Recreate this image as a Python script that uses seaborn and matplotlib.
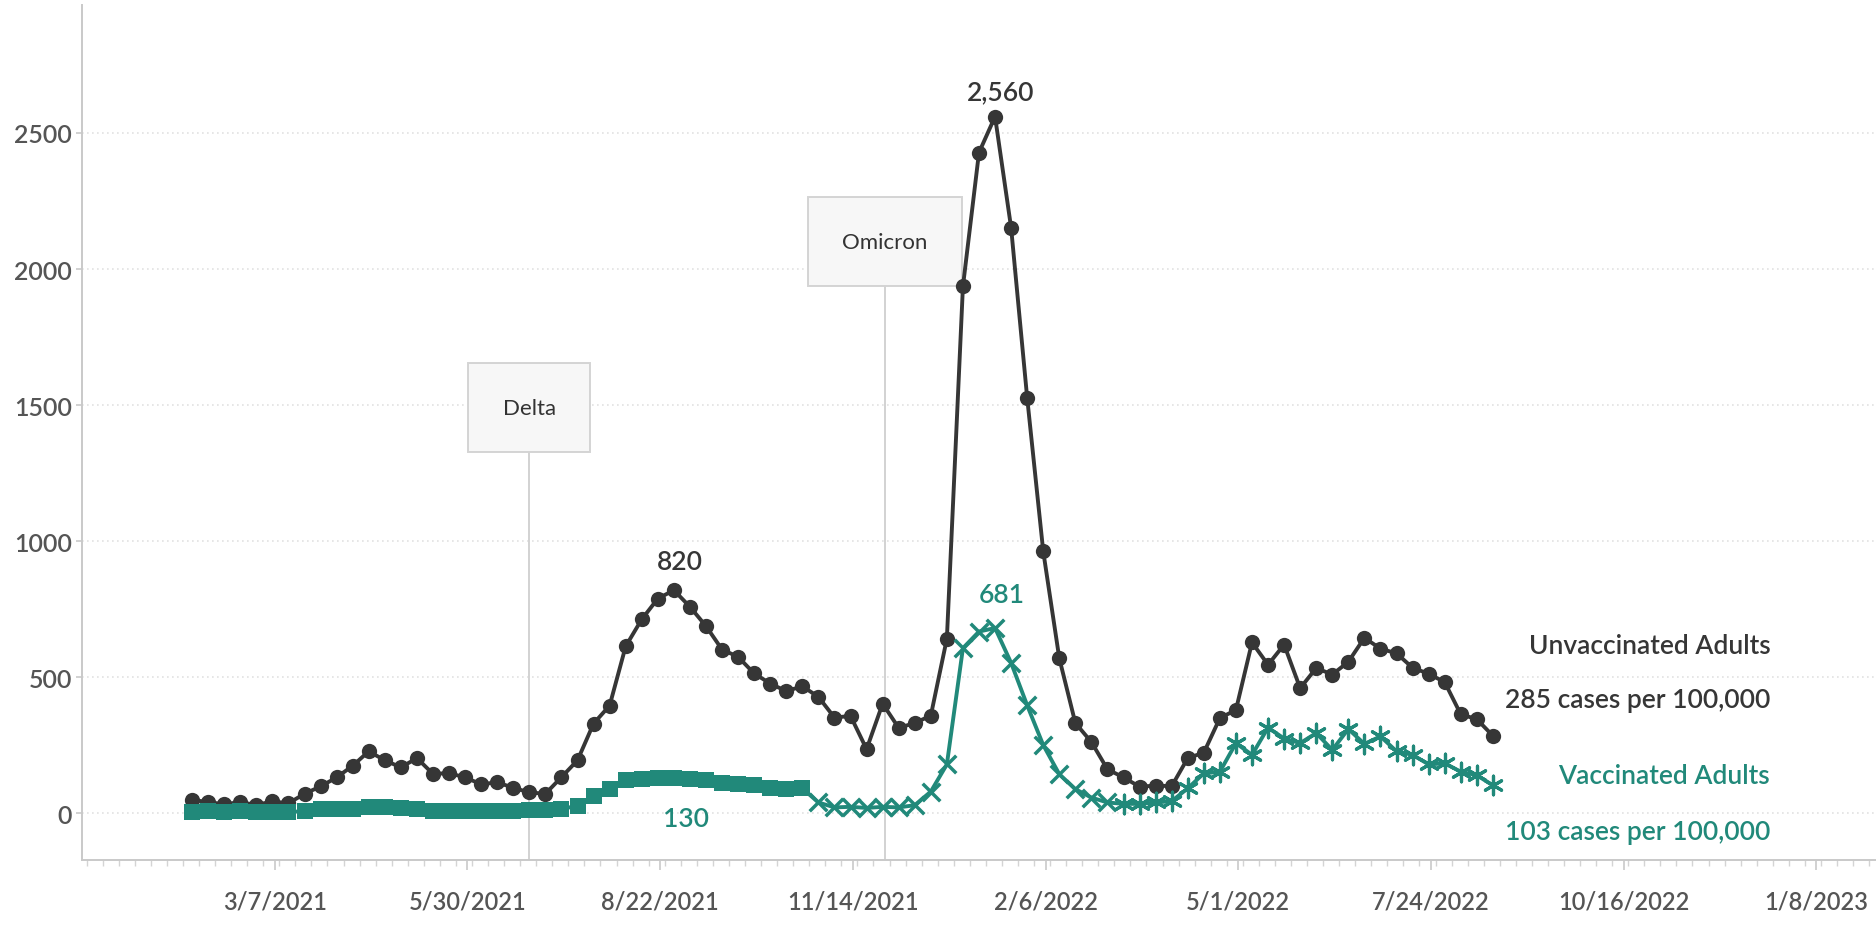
import numpy as np
import pandas as pd
import matplotlib
matplotlib.use('Agg')
import matplotlib.pyplot as plt
import matplotlib.dates as mdates
from matplotlib.transforms import blended_transform_factory
import seaborn as sns

# weekly case rates per 100,000 adults
weeks = pd.date_range('2021-01-30', periods=82, freq='7D')
unvaccinated = [50, 41, 34, 41, 31, 44, 37, 72, 99, 132,
                175, 228, 195, 169, 203, 145, 148, 132, 107, 114,
                94, 77, 72, 133, 195, 330, 396, 614, 713, 789,
                820, 759, 688, 602, 575, 514, 477, 449, 467, 428,
                352, 358, 236, 403, 314, 332, 359, 642, 1936, 2428,
                2560, 2152, 1527, 963, 570, 332, 262, 162, 132, 98,
                102, 100, 203, 223, 350, 380, 628, 546, 620, 460,
                534, 510, 557, 645, 605, 588, 535, 513, 482, 364,
                346, 285]
vaccinated = [5, 7, 4, 7, 4, 5, 6, 7, 15, 16,
              17, 22, 22, 18, 16, 10, 9, 9, 9, 10,
              10, 11, 13, 16, 28, 62, 89, 122, 128, 130,
              130, 127, 122, 112, 108, 104, 94, 89, 92, 40,
              22, 24, 20, 24, 22, 30, 80, 180, 607, 668,
              681, 553, 397, 251, 144, 89, 58, 40, 35, 35,
              40, 45, 92, 147, 153, 258, 215, 315, 275, 258,
              295, 233, 310, 255, 283, 228, 215, 180, 184, 153,
              140, 103]
# marker shape used by the source for the vaccinated series
phase = ['square'] * 39 + ['cross'] * 19 + ['star'] * 24

variant_names = ['Delta', 'Omicron']
variant_dates = [pd.Timestamp('2021-06-26'), pd.Timestamp('2021-11-28')]
variant_box_y = [1490, 2100]

x_ticks = pd.date_range('2021-03-07', periods=9, freq='84D')
y_ticks = [0, 500, 1000, 1500, 2000, 2500]

dark = '#363636'
teal = '#21897a'
grey_text = '#555555'

df = pd.DataFrame({'week': weeks, 'Unvaccinated': unvaccinated,
                   'Vaccinated': vaccinated, 'phase': phase})

sns.set_theme(style='white')
plt.rcParams['font.family'] = ['Lato', 'DejaVu Sans']

fig = plt.figure(figsize=(18.76, 9.29), dpi=100)
ax = fig.add_axes([0.0437, 0.073, 0.9563, 0.9205])

# variant annotation lines + boxes
for name, d, by in zip(variant_names, variant_dates, variant_box_y):
    ax.plot([d, d], [-200, by], color='#d2d2d2', lw=1.4, zorder=1)
    ax.text(d, by, name, ha='center', va='center', fontsize=16, color='#333333',
            zorder=2, bbox=dict(boxstyle='square,pad=1.55', fc='#f7f7f7', ec='#d4d4d4', lw=1.4))

sns.lineplot(data=df, x='week', y='Unvaccinated', color=dark, lw=2.8,
             marker='o', markersize=11, markeredgewidth=0, ax=ax, zorder=4)
sns.lineplot(data=df, x='week', y='Vaccinated', color=teal, lw=2.8, ax=ax, zorder=4)

sq = df[df['phase'] == 'square']
sns.scatterplot(data=sq, x='week', y='Vaccinated', marker='s', s=140, color=teal,
                linewidth=0, ax=ax, zorder=5)
cr = df[df['phase'] == 'cross']
sns.scatterplot(data=cr, x='week', y='Vaccinated', marker='x', s=160, color=teal,
                edgecolor=teal, linewidth=2.5, ax=ax, zorder=5)
st = df[df['phase'] == 'star']
sns.scatterplot(data=st, x='week', y='Vaccinated', marker=(6, 2, 0), s=180, color=teal,
                edgecolor=teal, linewidth=2.3, ax=ax, zorder=5)

# peak labels
i_delta = int(np.argmax(unvaccinated[:40]))
i_omi = int(np.argmax(unvaccinated))
i_vd = int(np.argmax(vaccinated[:40]))
i_vo = int(np.argmax(vaccinated))
ax.annotate(f'{unvaccinated[i_delta]:,}', (weeks[i_delta], unvaccinated[i_delta]),
            xytext=(4, 12), textcoords='offset points', ha='center', va='bottom',
            fontsize=19, color=dark, fontweight='semibold')
ax.annotate(f'{unvaccinated[i_omi]:,}', (weeks[i_omi], unvaccinated[i_omi]),
            xytext=(4, 9), textcoords='offset points', ha='center', va='bottom',
            fontsize=19, color=dark, fontweight='semibold')
ax.annotate(f'{vaccinated[i_vo]:,}', (weeks[i_vo], vaccinated[i_vo]),
            xytext=(5, 15), textcoords='offset points', ha='center', va='bottom',
            fontsize=19, color=teal, fontweight='semibold')
ax.annotate(f'{vaccinated[i_vd]:,}', (weeks[i_vd], vaccinated[i_vd]),
            xytext=(20, -20), textcoords='offset points', ha='center', va='top',
            fontsize=19, color=teal, fontweight='semibold')

# end labels
tr = blended_transform_factory(ax.transAxes, ax.transData)
ax.text(0.941, 617, 'Unvaccinated Adults', transform=tr, ha='right', va='center',
        fontsize=19, color=dark, fontweight='semibold')
ax.text(0.941, 418, f'{unvaccinated[-1]} cases per 100,000', transform=tr, ha='right',
        va='center', fontsize=19, color=dark, fontweight='semibold')
ax.text(0.941, 139, 'Vaccinated Adults', transform=tr, ha='right', va='center',
        fontsize=19, color=teal, fontweight='semibold')
ax.text(0.941, -68, f'{vaccinated[-1]} cases per 100,000', transform=tr, ha='right',
        va='center', fontsize=19, color=teal, fontweight='semibold')

ax.set_xlim(pd.Timestamp('2020-12-13'), pd.Timestamp('2023-02-03'))
ax.set_ylim(-172, 2970)
ax.set_xticks(x_ticks)
ax.set_xticklabels([f'{d.month}/{d.day}/{d.year}' for d in x_ticks])
ax.xaxis.set_minor_locator(mdates.DayLocator(interval=7))
ax.set_yticks(y_ticks)
ax.set_yticklabels([str(v) for v in y_ticks])
ax.set_xlabel('')
ax.set_ylabel('')

ax.grid(axis='y', linestyle=(0, (1, 2)), color='#e2e2e2', lw=1.2)
ax.set_axisbelow(True)
for s in ['top', 'right']:
    ax.spines[s].set_visible(False)
for s in ['left', 'bottom']:
    ax.spines[s].set_color('#c9c9c9')
    ax.spines[s].set_linewidth(1.4)

ax.tick_params(axis='y', length=4, width=1.2, color='#c9c9c9', pad=3,
               labelsize=18, labelcolor=grey_text, left=True)
ax.tick_params(axis='x', which='major', length=7, width=1.2, color='#c9c9c9', pad=14,
               labelsize=17, labelcolor=grey_text, bottom=True)
ax.tick_params(axis='x', which='minor', length=4, width=1, color='#d4d4d4', bottom=True)
for lab in ax.get_xticklabels() + ax.get_yticklabels():
    lab.set_fontweight('semibold')

fig.savefig('out.png', dpi=100, facecolor='white')
